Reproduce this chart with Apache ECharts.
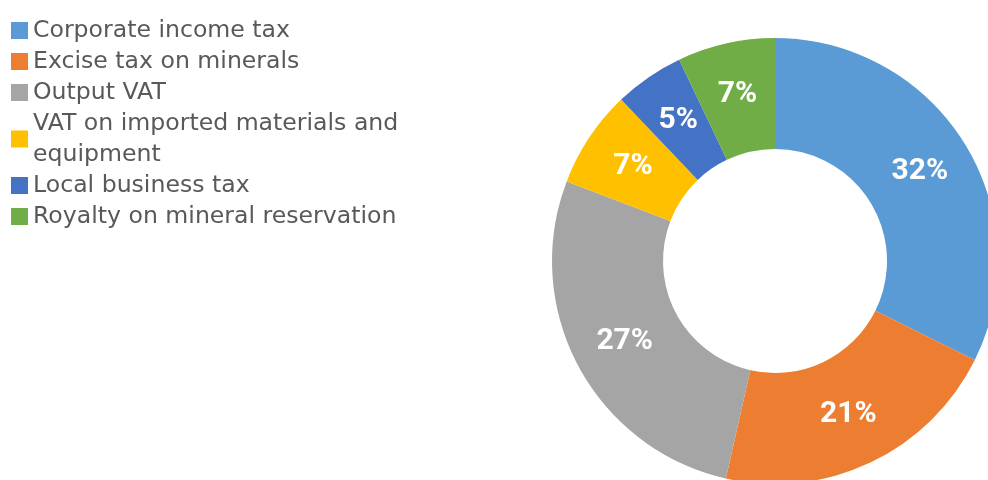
<!DOCTYPE html>
<html>
<head>
<meta charset="utf-8">
<script src="https://cdn.jsdelivr.net/npm/echarts@6/dist/echarts.min.js"></script>
<style>html,body{margin:0;padding:0;background:#fff;}#c{width:988px;height:480px;}</style>
</head>
<body>
<div id="c"></div>
<script>
const categories = ["Corporate income tax", "Excise tax on minerals", "Output VAT", "VAT on imported materials and equipment", "Local business tax", "Royalty on mineral reservation"];
const values = [32, 21, 27, 7, 5, 7];
const colors = ["#5B9BD5", "#ED7D31", "#A5A5A5", "#FFC000", "#4472C4", "#70AD47"];

const chart = echarts.init(document.getElementById('c'), null, {renderer: 'canvas'});
chart.setOption({
  animation: false,
  color: colors,
  legend: {
    orient: 'vertical',
    left: 11,
    top: 15,
    padding: 0,
    itemWidth: 17,
    itemHeight: 17,
    itemGap: 0,
    icon: 'rect',
    data: categories,
    textStyle: {
      fontFamily: 'DejaVu Sans',
      fontSize: 23.6,
      color: '#595959',
      lineHeight: 31,
      width: 392,
      overflow: 'break'
    }
  },
  series: [{
    type: 'pie',
    center: [775, 261],
    radius: [112, 223],
    startAngle: 90,
    clockwise: true,
    avoidLabelOverlap: false,
    data: categories.map((n, i) => ({name: n, value: values[i]})),
    label: {
      show: true,
      position: 'inside',
      formatter: p => p.value + '%',
      color: '#fff',
      fontFamily: 'Roboto',
      fontWeight: 'bold',
      fontSize: 30
    },
    labelLine: {show: false},
    itemStyle: {borderColor: '#fff', borderWidth: 0}
  }]
});
</script>
</body>
</html>
